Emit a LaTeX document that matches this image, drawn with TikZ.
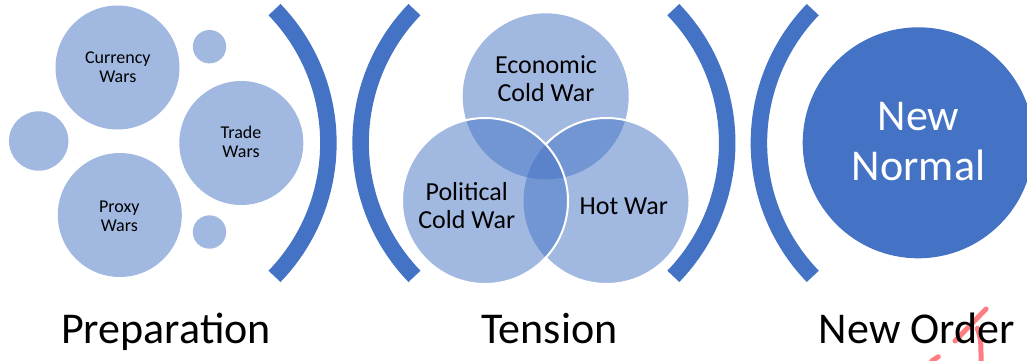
\documentclass[tikz,border=0pt]{standalone}
\usepackage{fontspec}
\setmainfont{Carlito}
\definecolor{accent}{HTML}{4472C4}
\definecolor{lightacc}{HTML}{A1B8E1}
\definecolor{penred}{HTML}{FF7C80}
\newcommand{\twoline}[2]{\begin{tabular}[t]{@{}c@{}}#1\\#2\end{tabular}}
\begin{document}
\begin{tikzpicture}[x=1pt,y=-1pt,
  bubble/.style={circle,fill=lightacc,inner sep=0pt},
  bracket/.style={draw=accent,line width=16.5pt},
  venn/.style={circle,inner sep=0pt,minimum size=166pt,fill=accent,fill opacity=0.5},
  vennline/.style={draw=white,line width=2pt},
  smalltxt/.style={font=\fontsize{18}{19.4}\selectfont,anchor=base,inner sep=0pt},
  midtxt/.style={font=\fontsize{26}{28.4}\selectfont,anchor=base,inner sep=0pt},
  bigtxt/.style={font=\fontsize{44}{50}\selectfont,anchor=base,inner sep=0pt},
  pen/.style={draw=penred,line width=5pt,line cap=round}]
\path[use as bounding box] (0,0) rectangle (1027,361);

% --- Preparation group
\node[bubble,minimum size=124pt] (cur) at (117.5,67.5) {};
\node[bubble,minimum size=124pt] (trade) at (241.3,143) {};
\node[bubble,minimum size=124pt] (proxy) at (119.8,215) {};
\node[bubble,minimum size=33.4pt] (s1) at (209.5,46.7) {};
\node[bubble,minimum size=59.4pt] (s2) at (38.7,141) {};
\node[bubble,minimum size=33.4pt] (s3) at (209.5,232) {};
\node[smalltxt] (curT) at (117.8,63.3) {\twoline{Currency}{Wars}};
\node[smalltxt] (tradeT) at (241,138.3) {\twoline{Trade}{Wars}};
\node[smalltxt] (proxyT) at (119.3,212.3) {\twoline{Proxy}{Wars}};

% --- brackets
\draw[bracket] (136.4,143) ++(-44:192) arc[start angle=-44,end angle=44,radius=192];
\draw[bracket] (552.6,143) ++(136:192) arc[start angle=136,end angle=224,radius=192];
\draw[bracket] (535.2,143) ++(-44:192) arc[start angle=-44,end angle=44,radius=192];
\draw[bracket] (950.9,143) ++(136:192) arc[start angle=136,end angle=224,radius=192];

% --- Tension venn
\node[venn] (econ) at (545.7,96.3) {};
\node[venn] (hot) at (606.5,201) {};
\begin{scope}[even odd rule]
  \clip (0,0) rectangle (1027,361) (485,201) circle[radius=83];
  \draw[vennline] (hot.center) circle[radius=83];
\end{scope}
\node[venn] (pol) at (485,201) {};
\draw[vennline] (pol.center) circle[radius=83];
\node[midtxt] (econT) at (546,73.3) {\twoline{Economic}{Cold War}};
\node[midtxt] (polT) at (466.7,200) {\twoline{Political}{Cold War}};
\node[midtxt] (hotT) at (623.8,214.5) {Hot War};

% --- New Order
\node[circle,fill=accent,inner sep=0pt,minimum size=231pt] (norm) at (918.2,142.8) {};
\node[bigtxt,text=white] (normT) at (918.5,130) {\twoline{New}{Normal}};

% --- pen mark
\draw[pen] (986,309) -- (955,341);
\draw[pen] (977.3,328.3) .. controls (981,340) .. (981,361);
\draw[pen] (931.7,361) -- (938.3,356.7);

% --- bottom labels
\node[bigtxt] (prepT) at (166,343) {Preparation};
\node[bigtxt] (tensT) at (549.5,343) {Tension};
\node[bigtxt] (orderT) at (916.7,343) {New Order};
\end{tikzpicture}
\end{document}
